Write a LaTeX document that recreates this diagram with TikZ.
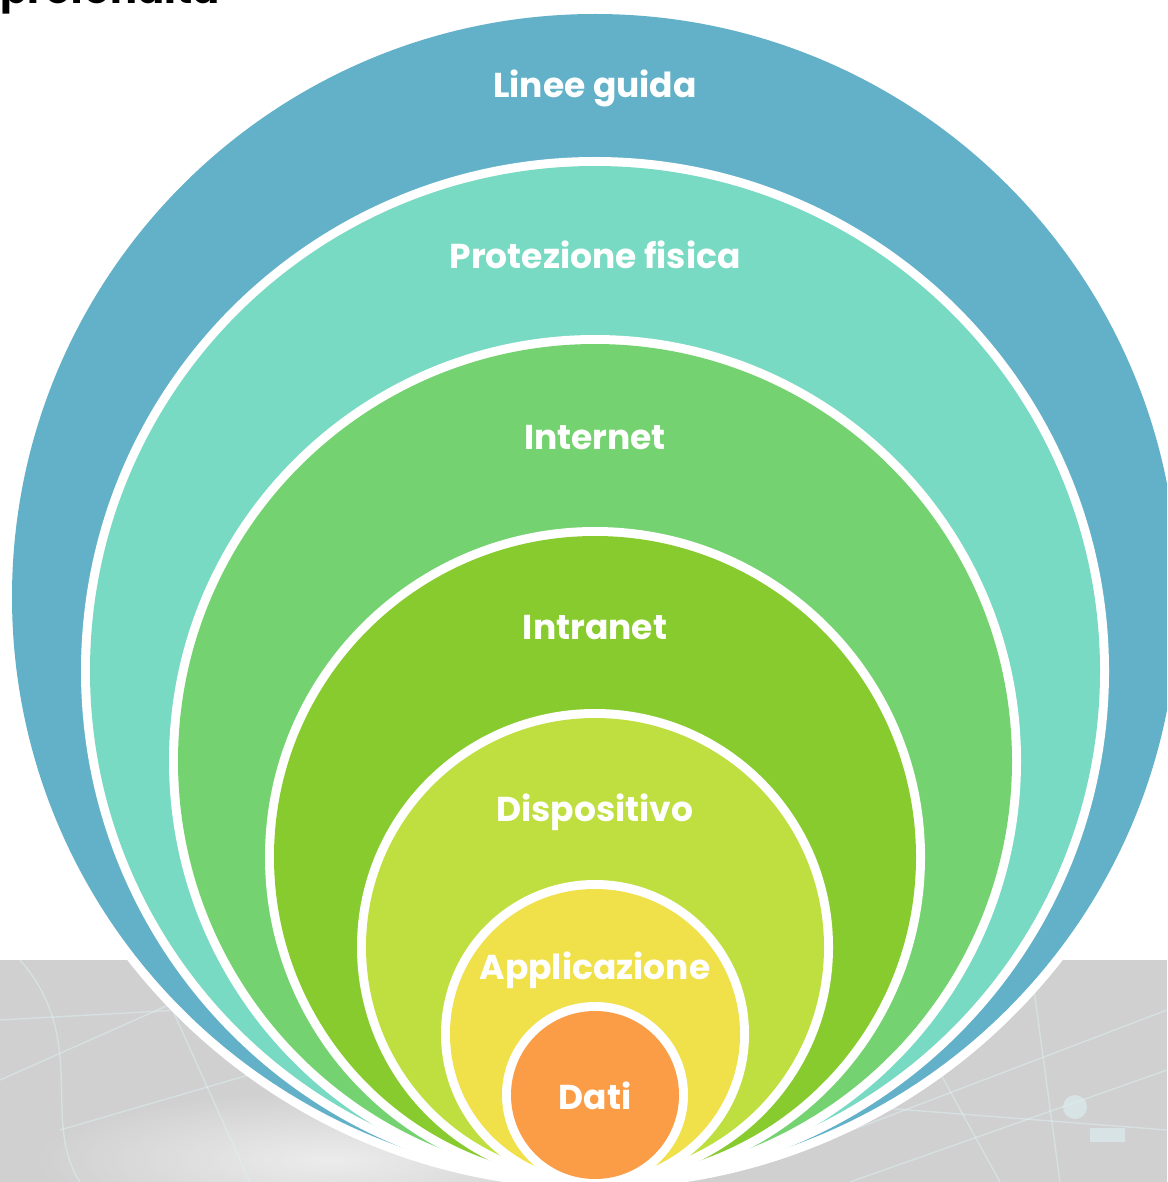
\documentclass[tikz,border=0pt]{standalone}
\usepackage{fontspec}
\setmainfont{Poppins}
\definecolor{cBlue}{HTML}{62B1C9}
\definecolor{cTeal}{HTML}{79DAC3}
\definecolor{cGreen}{HTML}{74D370}
\definecolor{cDkGreen}{HTML}{88CB2F}
\definecolor{cLime}{HTML}{BFDF41}
\definecolor{cYellow}{HTML}{F0E04A}
\definecolor{cOrange}{HTML}{FB9D47}
\definecolor{bgGrey}{HTML}{D0D0D0}
\definecolor{netLine}{HTML}{DDF1F3}
\tikzset{
  ringlabel/.style={anchor=base, text=white, font=\bfseries\fontsize{34.5}{37}\selectfont, inner sep=0pt},
  netline/.style={draw=netLine, line width=1.4pt, opacity=0.5},
}
\begin{document}
\begin{tikzpicture}[x=1pt,y=-1pt]
\useasboundingbox (0,0) rectangle (1167,1182);
\clip (0,0) rectangle (1167,1182);
\fill[white] (0,0) rectangle (1167,1182);
% background photo band
\fill[bgGrey] (0,960) rectangle (1167,1182);
\shade[inner color=white, outer color=bgGrey, opacity=0.6] (330,1160) ellipse (300pt and 70pt);
\draw[netline] (0,1080) -- (180,1000) -- (420,1080);
\draw[netline] (20,960) .. controls (90,1040) and (40,1120) .. (80,1182);
\draw[netline] (60,1130) -- (300,1060) -- (520,1120);
\draw[netline] (150,960) -- (250,1182);
\draw[netline] (0,1020) -- (360,1000);
\draw[netline] (800,1150) -- (1167,1010);
\draw[netline] (780,1100) -- (1167,1130);
\draw[netline] (900,1000) -- (1000,1182);
\draw[netline] (1030,960) -- (1060,1182);
\draw[netline] (850,1182) -- (1167,1070);
\fill[netLine, opacity=0.6] (1075,1107) circle (12pt);
\fill[netLine, opacity=0.6] (1090,1128) rectangle (1125,1142);
% title (cut by the top edge, as in the reference)
\node[anchor=base east, inner sep=0pt, font=\bfseries\fontsize{40}{40}\selectfont] (title) at (220,4) {Difesa in profondità};
% nested circles
\fill[white] (595,597) circle (592pt);
\fill[cBlue] (595,597) circle (583pt);
\fill[white] (595,671) circle (514pt);
\fill[cTeal] (595,671) circle (505pt);
\fill[white] (595,761) circle (426pt);
\fill[cGreen] (595,761) circle (417pt);
\fill[white] (595,857) circle (330pt);
\fill[cDkGreen] (595,857) circle (321pt);
\fill[white] (595,947) circle (238pt);
\fill[cLime] (595,947) circle (229pt);
\fill[white] (595,1034) circle (154pt);
\fill[cYellow] (595,1034) circle (145pt);
\fill[white] (595,1095) circle (93pt);
\fill[cOrange] (595,1095) circle (84pt);
% labels
\node[ringlabel] (l1) at (595,98) {Linee guida};
\node[ringlabel] (l2) at (595,268) {Protezione fisica};
\node[ringlabel] (l3) at (595,449) {Internet};
\node[ringlabel] (l4) at (595,639) {Intranet};
\node[ringlabel] (l5) at (595,821) {Dispositivo};
\node[ringlabel] (l6) at (595,979) {Applicazione};
\node[ringlabel] (l7) at (595,1109) {Dati};
\end{tikzpicture}
\end{document}
